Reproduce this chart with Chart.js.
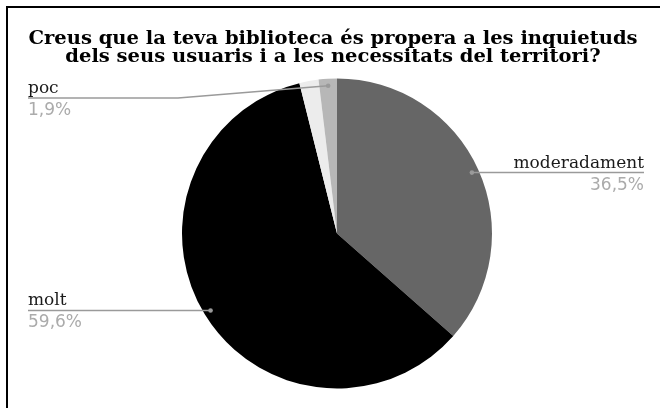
<!DOCTYPE html>
<html>
<head>
<meta charset="utf-8">
<script src="https://cdn.jsdelivr.net/npm/chart.js@4"></script>
<style>
  html, body { margin: 0; padding: 0; background: #fff; }
  #wrap { position: relative; width: 660px; height: 408px; }
</style>
</head>
<body>
<div id="wrap"><canvas id="chart" width="660" height="408"></canvas></div>
<script>
// data
const categories = ["moderadament", "molt", "altres", "poc"];
const values = [36.5, 59.6, 2.0, 1.9];
const sliceColors = ["#666666", "#000000", "#ececec", "#b7b7b7"];
const labelled = [true, true, false, true];
const titleLines = [
  "Creus que la teva biblioteca és propera a les inquietuds",
  "dels seus usuaris i a les necessitats del territori?"
];

const fmtPct = v => v.toFixed(1).replace(".", ",") + "%";

// frame, title and leader labels
const decorPlugin = {
  id: "decor",
  afterDraw(chart) {
    const ctx = chart.ctx;
    ctx.save();

    // frame (only left/top edges visible in the crop)
    ctx.strokeStyle = "#000";
    ctx.lineWidth = 2;
    ctx.beginPath();
    ctx.moveTo(7, 408);
    ctx.lineTo(7, 7);
    ctx.lineTo(660, 7);
    ctx.stroke();

    // title (the original is a little wider than tall, so stretch it)
    const sx = 1.085;
    ctx.save();
    ctx.translate(333, 0);
    ctx.scale(sx, 1);
    ctx.fillStyle = "#000";
    ctx.font = "bold 18px 'DejaVu Serif'";
    ctx.textAlign = "center";
    ctx.textBaseline = "alphabetic";
    titleLines.forEach((t, i) => ctx.fillText(t, 0, 44 + i * 18));
    ctx.restore();

    // slice labels with leader lines
    const meta = chart.getDatasetMeta(0);
    meta.data.forEach((arc, i) => {
      if (!labelled[i]) return;
      const p = arc.getProps(["x", "y", "startAngle", "endAngle", "outerRadius"], true);
      const mid = (p.startAngle + p.endAngle) / 2;
      const dr = p.outerRadius * 0.955;
      const dx = p.x + Math.cos(mid) * dr;
      const dy = p.y + Math.sin(mid) * dr;
      const right = Math.cos(mid) > 0;
      const lineY = Math.max(dy, 98);

      ctx.strokeStyle = "#9a9a9a";
      ctx.lineWidth = 1.5;
      ctx.beginPath();
      if (right) {
        ctx.moveTo(dx, dy);
        ctx.lineTo(644, lineY);
      } else {
        ctx.moveTo(28, lineY);
        if (lineY !== dy) ctx.lineTo(178, lineY);
        ctx.lineTo(dx, dy);
      }
      ctx.stroke();

      ctx.fillStyle = "#9a9a9a";
      ctx.beginPath();
      ctx.arc(dx, dy, 2.3, 0, Math.PI * 2);
      ctx.fill();

      ctx.font = "17px 'DejaVu Serif'";
      ctx.textAlign = right ? "right" : "left";
      const tx = right ? 644 : 28;
      ctx.fillStyle = "#1a1a1a";
      ctx.fillText(categories[i], tx, lineY - 5);
      ctx.font = "17px 'DejaVu Sans'";
      ctx.fillStyle = "#ababab";
      ctx.fillText(fmtPct(values[i]), tx, lineY + 17);
    });
    ctx.restore();
  }
};

new Chart(document.getElementById("chart"), {
  type: "pie",
  data: {
    labels: categories,
    datasets: [{
      data: values,
      backgroundColor: sliceColors,
      borderWidth: 0
    }]
  },
  options: {
    responsive: false,
    animation: false,
    layout: { padding: { top: 78.5, bottom: 19.5, left: 14, right: 0 } },
    plugins: {
      legend: { display: false },
      title: { display: false },
      tooltip: { enabled: false }
    }
  },
  plugins: [decorPlugin]
});
</script>
</body>
</html>
